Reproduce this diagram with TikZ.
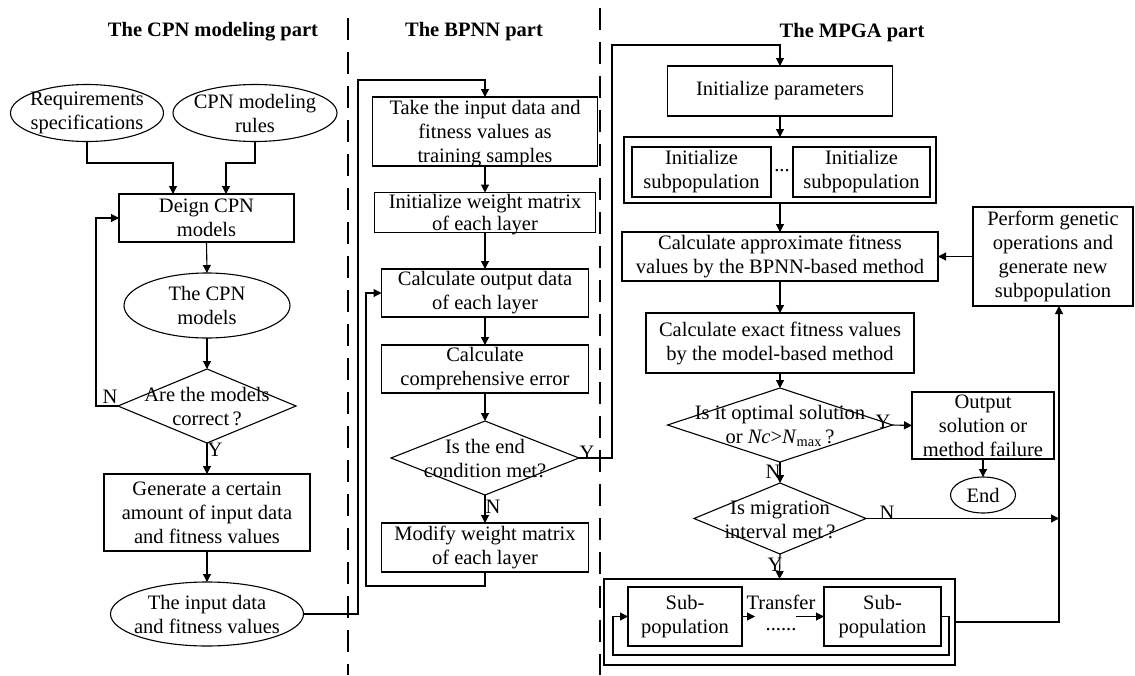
\documentclass[tikz,border=0pt]{standalone}
\usepackage{fontspec}
\setmainfont{Liberation Serif}
\usetikzlibrary{arrows.meta,shapes.geometric}
\begin{document}
\begin{tikzpicture}[x=1pt,y=-1pt,
  every node/.style={font=\fontsize{20.5}{24}\selectfont, inner sep=0pt, outer sep=0pt},
  arr/.style={line width=1.1pt,-{Triangle[length=8pt,width=8pt]}},
  ln/.style={line width=1.1pt},
  box/.style 2 args={draw,rectangle,line width=1.1pt,minimum width=#1,minimum height=#2},
  ell/.style 2 args={draw,ellipse,line width=1.1pt,minimum width=#1,minimum height=#2},
  dia/.style 2 args={draw,diamond,line width=1.1pt,minimum width=#1,minimum height=#2},
  txt/.style={align=center},
  tight/.style={align=center,font=\fontsize{20.5}{22}\selectfont},
  title/.style={font=\fontsize{20.5}{24}\selectfont\bfseries},
  sep/.style={line width=1.2pt, dash pattern=on 22pt off 12pt}
]
\fill[white] (0,0) rectangle (1135,675);
\useasboundingbox (0,0) rectangle (1135,675);

% titles
\node[title] (t1) at (213,32) {The CPN modeling part};
\node[title] (t2) at (474,32) {The BPNN part};
\node[title] (t3) at (852,33) {The MPGA part};

% separators
\coordinate (s1a) at (348,18); \coordinate (s1b) at (348,675);
\coordinate (s2a) at (600,8); \coordinate (s2b) at (600,675);
\draw[sep] (s1a) -- (s1b);
\draw[sep] (s2a) -- (s2b);

% ---------------- left column
\node[ell={153}{57}] (req) at (87,113) {};
\node[txt] (req-t) at (req) {Requirements\\specifications};
\node[ell={164}{57}] (rules) at (255,113) {};
\node[txt] (rules-t) at (rules) {CPN modeling\\rules};
\node[box={175}{48}] (design) at (206.5,218) {};
\node[txt] (design-t) at (design) {Deign CPN\\models};
\node[ell={166}{65}] (cpn) at (207,305.5) {};
\node[txt] (cpn-t) at (cpn) {The CPN\\models};
\node[dia={178}{74}] (d1) at (207,406) {};
\node[txt] (d1-t) at (207,407) {Are the models\\correct\,?};
\node[box={206}{77}] (gen) at (207,512.5) {};
\node[txt] (gen-t) at (gen) {Generate a certain\\amount of input data\\and fitness values};
\node[ell={193}{64}] (inp) at (207,614) {};
\node[txt] (inp-t) at (inp) {The input data\\and fitness values};

\coordinate (j1) at (173,163);
\coordinate (j2) at (226,163);
\draw[arr] (req.south) |- (j1) -- (j1 |- design.north);
\draw[arr] (rules.south) |- (j2) -- (j2 |- design.north);
\draw[arr] (design.south) -- (cpn.north);
\draw[arr] (cpn.south) -- (d1.north);
\coordinate (l1) at (96,406);
\draw[arr] (d1.west) -- (l1) |- (design.west);
\node (n1) at (110,397) {N};
\draw[arr] (d1.south) -- (gen.north);
\node (y1) at (215,450) {Y};
\draw[arr] (gen.south) -- (inp.north);

% ---------------- middle column
\node[box={225}{69}] (take) at (485,131.5) {};
\node[txt] (take-t) at (485,133.5) {Take the input data and\\fitness values as\\training samples};
\node[box={221}{40}] (initw) at (485,212.5) {};
\node[tight] (initw-t) at (485,214.5) {Initialize weight matrix\\of each layer};
\node[box={207}{48}] (calcout) at (485,293) {};
\node[txt] (calcout-t) at (calcout) {Calculate output data\\of each layer};
\node[box={207}{48}] (comperr) at (485,369) {};
\node[txt] (comperr-t) at (comperr) {Calculate\\comprehensive error};
\node[dia={188}{74}] (d2) at (485,458) {};
\node[txt] (d2-t) at (485,459) {Is the end\\condition met?};
\node[box={207}{49}] (modify) at (485,547.5) {};
\node[txt] (modify-t) at (modify) {Modify weight matrix\\of each layer};

\coordinate (m1) at (358,80);
\draw[arr] (inp.east) -| (m1) -| (take.north);
\draw[arr] (take.south) -- (initw.north);
\draw[arr] (initw.south) -- (calcout.north);
\draw[arr] (calcout.south) -- (comperr.north);
\draw[arr] (comperr.south) -- (d2.north);
\draw[arr] (d2.south) -- (modify.north);
\node (n2) at (493,507) {N};
\coordinate (m2) at (366,586);
\draw[arr] (modify.south) |- (m2) |- (calcout.west);
\coordinate (m3) at (612,45);
\node[box={225}{50}] (initp) at (780,91) {};
\draw[arr] (d2.east) -| (m3) -| (initp.north);
\node (y2) at (587,453) {Y};

% ---------------- right column
\node[txt] (initp-t) at (initp) {Initialize parameters};
\node[box={312}{66}] (outer1) at (780,170) {};
\node[box={139}{50}] (ia) at (701.5,172) {};
\node[txt] (ia-t) at (ia) {Initialize\\subpopulation};
\node[box={137}{50}] (ib) at (861.5,172) {};
\node[txt] (ib-t) at (ib) {Initialize\\subpopulation};
\node[anchor=base] (dots1) at (782,171) {...};
\node[box={316}{49}] (approx) at (780,256.5) {};
\node[txt] (approx-t) at (approx) {Calculate approximate fitness\\values by the BPNN-based method};
\node[box={160}{99}] (perform) at (1053,256.5) {};
\node[txt] (perform-t) at (perform) {Perform genetic\\operations and\\generate new\\subpopulation};
\node[box={268}{60}] (exact) at (780,343) {};
\node[txt] (exact-t) at (exact) {Calculate exact fitness values\\by the model-based method};
\node[dia={225}{74}] (d3) at (780,425) {};
\node[txt] (d3-t) at (780,426) {Is it optimal solution\\or \textit{Nc}>\textit{N}\textsubscript{max}\,?};
\node[box={142}{67}] (output) at (983,425.5) {};
\node[txt] (output-t) at (output) {Output\\solution or\\method failure};
\node[ell={65}{36}] (end) at (983,495) {};
\node (end-t) at (end) {End};
\node[dia={172}{71}] (d4) at (780,518.5) {};
\node[txt] (d4-t) at (780,520) {Is migration\\interval met\,?};
\node[box={351}{86}] (outer2) at (779.5,622) {};
\node[box={114}{59}] (sa) at (685,616.5) {};
\node[txt] (sa-t) at (sa) {Sub-\\population};
\node[box={117}{59}] (sb) at (882.5,616.5) {};
\node[txt] (sb-t) at (sb) {Sub-\\population};
\node (transfer) at (781,602) {Transfer};
\node[anchor=base] (dots2) at (781,630) {......};

\draw[arr] (initp.south) -- (outer1.north);
\draw[arr] (outer1.south) -- (approx.north);
\draw[arr] (perform.west) -- (approx.east);
\draw[arr] (approx.south) -- (exact.north);
\draw[arr] (exact.south) -- (d3.north);
\draw[arr] (d3.east) -- (output.west);
\node (y3) at (883,422) {Y};
\draw[arr] (output.south) -- (end.north);
\draw[arr] (d3.south) -- (d4.north);
\node (n3) at (773,472) {N};
\draw[arr] (d4.south) -- (outer2.north);
\node (y4) at (775,565) {Y};

\coordinate (t1a) at (755,616.5);
\coordinate (t2a) at (796,616.5);
\draw[arr] (sa.east) -- (t1a);
\draw[arr] (t2a) -- (sb.west);
\coordinate (r1) at (949,655);
\coordinate (r2) at (613,655);
\draw[arr] (sb.east) -| (r1) -- (r2) |- (sa.west);

\coordinate (r3) at (1059,622);
\draw[arr] (outer2.east) -- (r3) -- (r3 |- perform.south);
\draw[arr] (d4.east) -- (d4.east -| r3);
\node (n4) at (887,513) {N};
\end{tikzpicture}
\end{document}
